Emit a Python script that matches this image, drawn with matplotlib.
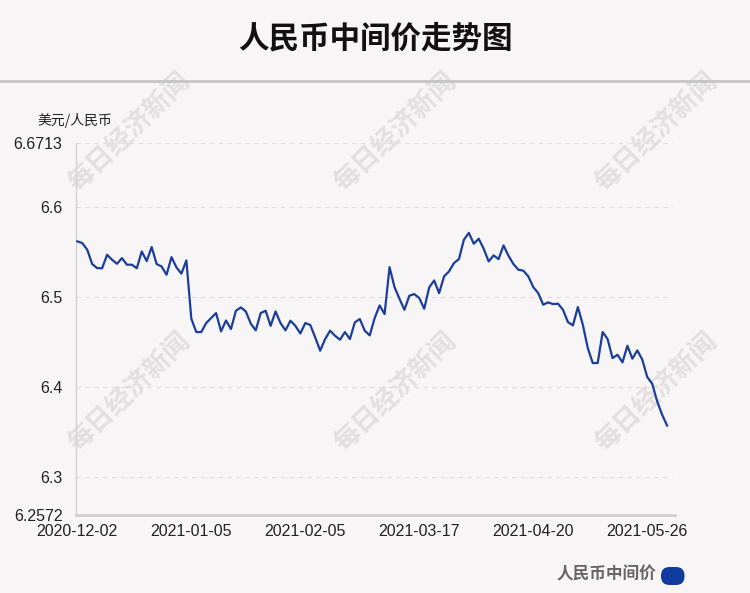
"""
plot.py — 人民币中间价走势图 (USD/CNY central parity, 2020-12-02 .. 2021-06-01).
"""
import matplotlib
matplotlib.use("Agg")
import matplotlib.pyplot as plt
import matplotlib.patches as mpatches
import matplotlib.transforms as mtransforms
import numpy as np

plt.rcParams["font.family"] = ["Liberation Sans", "Noto Sans CJK SC", "DejaVu Sans"]

# ── Data (one point per trading day) ─────────────────────────────────────────
MID_RATE = [
    6.5619, 6.5600, 6.5526, 6.5367, 6.5322, 6.5320, 6.5470, 6.5415, 6.5370, 6.5433,
    6.5360, 6.5360, 6.5320, 6.5507, 6.5400, 6.5556, 6.5367, 6.5340, 6.5248, 6.5444,
    6.5330, 6.5260, 6.5408, 6.4760, 6.4611, 6.4611, 6.4711, 6.4767, 6.4822, 6.4619,
    6.4740, 6.4644, 6.4848, 6.4885, 6.4840, 6.4704, 6.4630, 6.4822, 6.4848, 6.4680,
    6.4840, 6.4711, 6.4630, 6.4737, 6.4680, 6.4596, 6.4711, 6.4690, 6.4552, 6.4404,
    6.4533, 6.4626, 6.4570, 6.4526, 6.4611, 6.4533, 6.4719, 6.4756, 6.4626, 6.4574,
    6.4767, 6.4907, 6.4811, 6.5333, 6.5111, 6.4981, 6.4859, 6.5015, 6.5033, 6.4989,
    6.4870, 6.5107, 6.5185, 6.5044, 6.5230, 6.5285, 6.5378, 6.5422, 6.5637, 6.5713,
    6.5593, 6.5648, 6.5537, 6.5396, 6.5463, 6.5422, 6.5574, 6.5459, 6.5367, 6.5304,
    6.5293, 6.5230, 6.5111, 6.5044, 6.4915, 6.4941, 6.4922, 6.4926, 6.4859, 6.4722,
    6.4685, 6.4889, 6.4693, 6.4433, 6.4267, 6.4267, 6.4611, 6.4533, 6.4322, 6.4359,
    6.4274, 6.4459, 6.4315, 6.4407, 6.4304, 6.4111, 6.4037, 6.3841, 6.3693, 6.3572,
]
TICK_LABELS = ["2020-12-02", "2021-01-05", "2021-02-05",
               "2021-03-17", "2021-04-20", "2021-05-26"]
TICK_STEP = 23          # trading days between labelled dates
Y_MIN, Y_MAX = 6.2572, 6.6713
Y_TICKS = [6.2572, 6.3, 6.4, 6.5, 6.6, 6.6713]
Y_TICK_LABELS = ["6.2572", "6.3", "6.4", "6.5", "6.6", "6.6713"]

TITLE = "人民币中间价走势图"
UNIT = "美元/人民币"
SERIES = "人民币中间价"
WATERMARK = "每日经济新闻"

BG = "#f8f5f6"
BLUE = "#1b3d9c"
CJK = ["Noto Sans CJK SC", "DejaVu Sans"]

# ── Figure ────────────────────────────────────────────────────────────────────
fig = plt.figure(figsize=(7.5, 5.93), dpi=100, facecolor=BG)
ax = fig.add_axes([0.1008, 0.1307, 0.7992, 0.6282])
ax.set_facecolor("none")

# watermarks (behind the axes content)
for wx in (0.173, 0.527, 0.875):
    for wy in (0.777, 0.338):
        fig.text(wx, wy, WATERMARK, family=CJK, fontsize=19, fontweight="bold",
                 color="#e3dfe0", rotation=44, ha="center", va="center",
                 zorder=-1)

x = np.arange(len(MID_RATE))
ax.plot(x, MID_RATE, color=BLUE, linewidth=1.6, zorder=3)

ax.set_xlim(-0.35, len(MID_RATE) + 0.6)
ax.set_ylim(Y_MIN, Y_MAX)
tick_idx = np.arange(0, len(MID_RATE), TICK_STEP)[:len(TICK_LABELS)]
ax.set_xticks(tick_idx)
ax.set_xticklabels(TICK_LABELS, fontsize=11.5, color="#222222")
ax.set_yticks(Y_TICKS)
ax.set_yticklabels(Y_TICK_LABELS, fontsize=11.5, color="#222222")
ax.tick_params(axis="both", length=0)
ax.tick_params(axis="y", pad=9.5)
ax.tick_params(axis="x", pad=6)

for yv in Y_TICKS[1:]:
    ax.axhline(yv, xmax=0.995, color="#dcdcdc", linewidth=0.8,
               linestyle=(0, (4, 4)), zorder=1)

for s in ("top", "right"):
    ax.spines[s].set_visible(False)
ax.spines["left"].set_color("#d0d0d0")
ax.spines["left"].set_linewidth(1.0)
ax.spines["bottom"].set_color("#d0d0d0")
ax.spines["bottom"].set_linewidth(2.0)

# title + separator
fig.text(0.5, 0.935, TITLE, family=CJK, fontsize=22, fontweight="bold",
         color="#111111", ha="center", va="center")
fig.add_artist(plt.Line2D([0, 1], [0.863, 0.863], color="#c4c4c4",
                          linewidth=2, transform=fig.transFigure))

# unit label
fig.text(0.05, 0.797, UNIT, family=CJK, fontsize=10, color="#222222",
         ha="left", va="center")

# legend (pill marker sized in pixels)
fig.text(0.875, 0.031, SERIES, family=CJK, fontsize=12, fontweight="bold",
         color="#666666", ha="right", va="center")
fig.patches.append(mpatches.FancyBboxPatch(
    (661, 8), 23.5, 18, boxstyle="round,pad=0,rounding_size=8.5",
    transform=mtransforms.IdentityTransform(), facecolor="#123ba0",
    edgecolor="none"))

fig.savefig("out.png", dpi=100, facecolor=BG)
